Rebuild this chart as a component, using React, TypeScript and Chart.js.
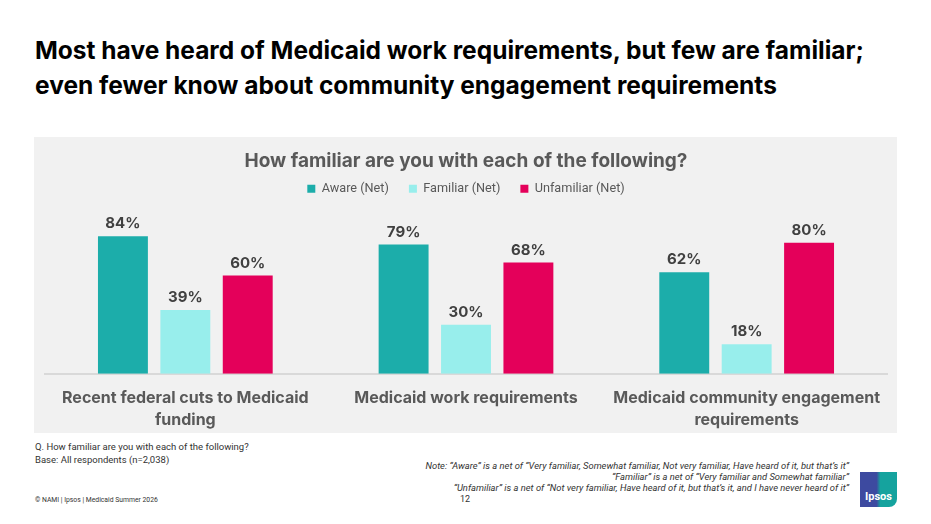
import React, { useEffect, useRef } from "react";
import { Chart, registerables } from "chart.js";

Chart.register(...registerables);

const categories: string[][] = [
  ["Recent federal cuts to Medicaid", "funding"],
  ["Medicaid work requirements"],
  ["Medicaid community engagement", "requirements"],
];
const seriesNames = ["Aware (Net)", "Familiar (Net)", "Unfamiliar (Net)"];
const awareValues = [84, 79, 62];
const familiarValues = [39, 30, 18];
const unfamiliarValues = [60, 68, 80];
const seriesColors = ["#1cadaa", "#98eeec", "#e4005a"];

const FONT = "Roboto, 'Noto Sans', sans-serif";
const BOLD = "Inter, Roboto, sans-serif";

const dataLabelPlugin = {
  id: "dataLabels",
  afterDatasetsDraw(chart: any) {
    const ctx = chart.ctx;
    ctx.save();
    ctx.font = `bold 15px ${BOLD}`;
    ctx.fillStyle = "#404040";
    ctx.textAlign = "center";
    ctx.textBaseline = "bottom";
    chart.data.datasets.forEach((ds: any, i: number) => {
      const meta = chart.getDatasetMeta(i);
      meta.data.forEach((bar: any, j: number) => {
        ctx.fillText(`${ds.data[j]}%`, bar.x, bar.y - 5);
      });
    });
    ctx.restore();
  },
};

const panelBg = {
  id: "panelBg",
  beforeDraw(chart: any) {
    const ctx = chart.ctx;
    ctx.save();
    ctx.fillStyle = "#f1f1f1";
    ctx.fillRect(0, 0, chart.width, chart.height);
    ctx.restore();
  },
};

function ChartPanel() {
  const ref = useRef<HTMLCanvasElement | null>(null);
  useEffect(() => {
    if (!ref.current) return;
    const chart = new Chart(ref.current, {
      type: "bar",
      data: {
        labels: categories,
        datasets: [awareValues, familiarValues, unfamiliarValues].map((d, i) => ({
          label: seriesNames[i],
          data: d,
          backgroundColor: seriesColors[i],
          borderWidth: 0,
          categoryPercentage: 0.667,
          barPercentage: 0.8,
        })),
      },
      options: {
        animation: false,
        responsive: false,
        maintainAspectRatio: false,
        layout: { padding: { top: 0, left: 11, right: 10, bottom: -4 } },
        plugins: {
          title: {
            display: true,
            text: "How familiar are you with each of the following?",
            color: "#595959",
            font: { family: BOLD, size: 19, weight: "bold" },
            padding: { top: 13, bottom: -10.3 },
          },
          legend: {
            display: true,
            labels: {
              color: "#595959",
              font: { family: FONT, size: 12.7 },
              boxWidth: 8,
              boxHeight: 8,
              padding: 20,
            },
          },
          tooltip: { enabled: false },
        },
        scales: {
          x: {
            grid: { display: false },
            border: { display: true, color: "#d9d9d9", width: 2 },
            ticks: {
              color: "#595959",
              font: { family: BOLD, size: 16, weight: "bold", lineHeight: 1.35 },
              padding: 6,
              maxRotation: 0,
              autoSkip: false,
            },
          },
          y: { display: false, min: 0, max: 103 },
        },
      },
      plugins: [panelBg, dataLabelPlugin],
    });
    return () => chart.destroy();
  }, []);
  return <canvas ref={ref} width={863} height={296} style={{ display: "block", width: 863, height: 296 }} />;
}

export default function App() {
  const t: React.CSSProperties = { position: "absolute", margin: 0, whiteSpace: "nowrap" };
  return (
    <div style={{ position: "fixed", left: 0, top: 0, width: 931, height: 524, background: "#fff", fontFamily: FONT, overflow: "hidden" }}>
      <div style={{ ...t, left: 35, top: 33, fontFamily: BOLD, fontSize: 24.5, fontWeight: 700, color: "#000", lineHeight: "35px" }}>
        Most have heard of Medicaid work requirements, but few are familiar;
        <br />
        even fewer know about community engagement requirements
      </div>
      <div style={{ position: "absolute", left: 34, top: 137 }}>
        <ChartPanel />
      </div>
      <div style={{ ...t, left: 35, top: 441, fontSize: 9.5, color: "#333", lineHeight: "12.5px" }}>
        Q. How familiar are you with each of the following?
        <br />
        Base: All respondents (n=2,038)
      </div>
      <div style={{ ...t, right: 82, top: 460, fontSize: 9.4, color: "#333", fontStyle: "italic", lineHeight: "11px", textAlign: "right" }}>
        Note: “Aware” is a net of “Very familiar, Somewhat familiar, Not very familiar, Have heard of it, but that’s it”
        <br />
        “Familiar” is a net of “Very familiar and Somewhat familiar”
        <br />
        “Unfamiliar” is a net of “Not very familiar, Have heard of it, but that’s it, and I have never heard of it”
      </div>
      <div style={{ ...t, left: 460, top: 494, fontSize: 9, color: "#333" }}>12</div>
      <div style={{ ...t, left: 35, top: 496, fontSize: 6.8, color: "#333" }}>© NAMI | Ipsos | Medicaid Summer 2026</div>
      <div style={{ position: "absolute", left: 860, top: 472, width: 37, height: 35, background: "linear-gradient(90deg, #3d4aa0 0%, #3d4aa0 45%, #15a39e 55%, #15a39e 100%)", borderRadius: "0 0 8px 0" }}>
        <div style={{ position: "absolute", left: 0, right: 0, bottom: 4, textAlign: "center", color: "#fff", fontWeight: 700, fontSize: 11 }}>Ipsos</div>
      </div>
    </div>
  );
}
